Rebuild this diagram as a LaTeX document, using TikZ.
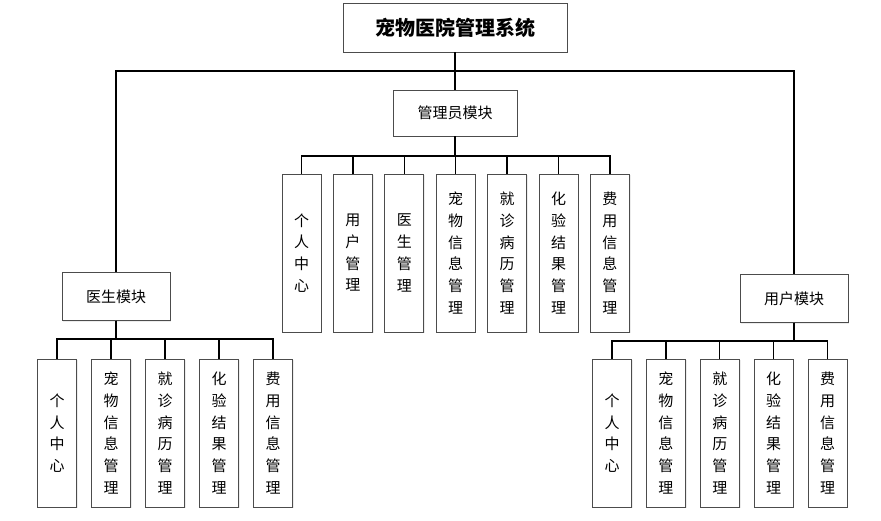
\documentclass[tikz,border=0pt]{standalone}
\usepackage{fontspec}
\setmainfont{Noto Sans CJK SC}
\usetikzlibrary{shadows}
\begin{document}
\begin{tikzpicture}[x=1pt, y=-1pt,
    box/.style = {draw=black!70, fill=white, line width=0.8pt, inner sep=0pt,
                  drop shadow={opacity=0.15, shadow xshift=1.2pt, shadow yshift=-1.2pt}},
    modbox/.style = {box, minimum width=108pt, minimum height=48pt,
                     font=\fontsize{15}{18}\selectfont},
    leaf/.style = {box, minimum width=39pt, align=center,
                   font=\fontsize{15}{21.7}\selectfont},
    link/.style = {line width=1.3pt}]
  \useasboundingbox (0,0) rectangle (881,520);
  % top level
  \node[box, minimum width=224pt, minimum height=49pt,
        font=\bfseries\fontsize{20}{24}\selectfont] (sys) at (455,27.5) {宠物医院管理系统};
  \node[modbox, minimum width=124pt, minimum height=46pt] (admin) at (455,113) {管理员模块};
  \node[modbox] (doctor) at (116,296.5) {医生模块};
  \node[modbox] (user) at (794,298.5) {用户模块};
  \coordinate (top) at (455,71);
  \coordinate (abus) at (455,156);
  \coordinate (dbus) at (116,339);
  \coordinate (ubus) at (794,341);
  % admin leaves
  \foreach \txt [count=\i] in {个\\人\\中\\心, 用\\户\\管\\理, 医\\生\\管\\理,
      宠\\物\\信\\息\\管\\理, 就\\诊\\病\\历\\管\\理, 化\\验\\结\\果\\管\\理,
      费\\用\\信\\息\\管\\理}
    \node[leaf, minimum height=158pt] (a\i) at ({301.5+51.4*(\i-1)},253) {\txt};
  % doctor leaves
  \foreach \txt [count=\i] in {个\\人\\中\\心, 宠\\物\\信\\息\\管\\理,
      就\\诊\\病\\历\\管\\理, 化\\验\\结\\果\\管\\理, 费\\用\\信\\息\\管\\理}
    \node[leaf, minimum height=148pt] (d\i) at ({57+54*(\i-1)},433) {\txt};
  % user leaves
  \foreach \txt [count=\i] in {个\\人\\中\\心, 宠\\物\\信\\息\\管\\理,
      就\\诊\\病\\历\\管\\理, 化\\验\\结\\果\\管\\理, 费\\用\\信\\息\\管\\理}
    \node[leaf, minimum height=148pt] (u\i) at ({612+53.9*(\i-1)},433) {\txt};
  % connectors
  \draw[link] (sys.south) -- (admin.north);
  \draw[link] (sys.south |- top) -| (doctor.north);
  \draw[link] (sys.south |- top) -| (user.north);
  \foreach \i in {1,...,7}
    \draw[link] (admin.south) -- (abus) -| (a\i.north);
  \foreach \i in {1,...,5} {
    \draw[link] (doctor.south) -- (dbus) -| (d\i.north);
    \draw[link] (user.south) -- (ubus) -| (u\i.north);
  }
\end{tikzpicture}
\end{document}
